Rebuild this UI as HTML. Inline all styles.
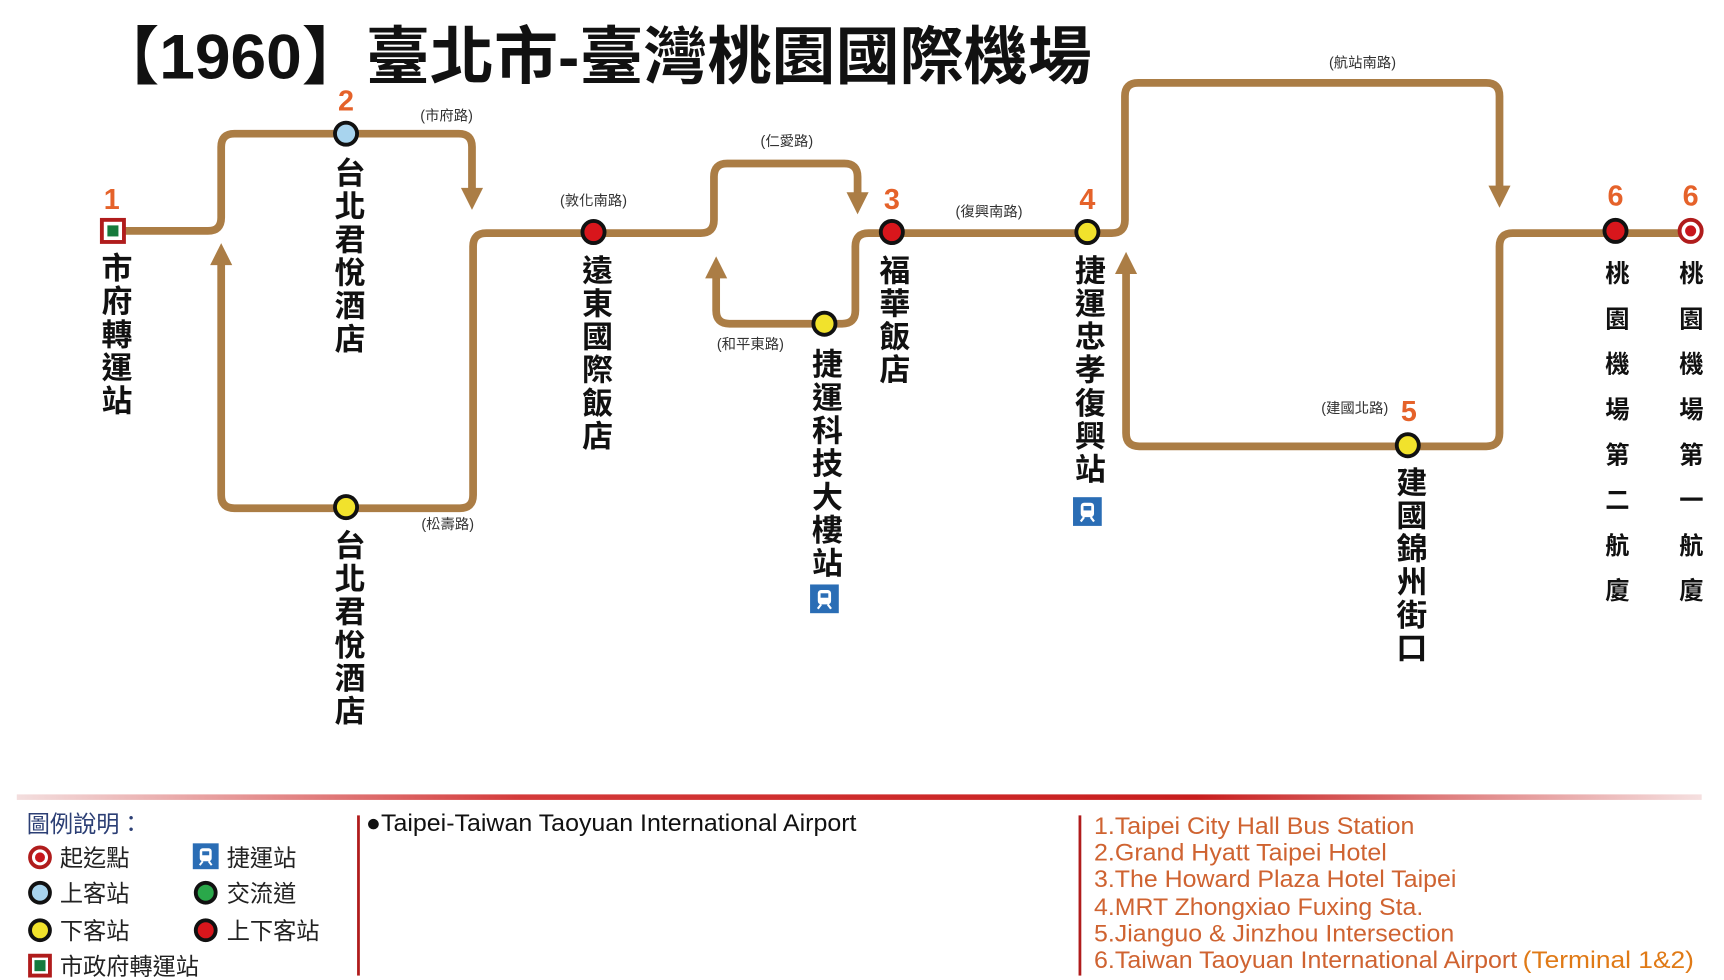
<!DOCTYPE html>
<html><head><meta charset="utf-8"><style>
html,body{margin:0;padding:0;background:#fff;}
svg{display:block;}
.v{writing-mode:vertical-rl;text-orientation:upright;font-family:"Liberation Sans","Noto Sans CJK TC",sans-serif;font-weight:bold;fill:#111;}
.r{font-family:"Liberation Sans","Noto Sans CJK TC",sans-serif;font-size:13px;fill:#333;text-anchor:middle;}
.n{font-family:"Liberation Sans",sans-serif;font-weight:bold;font-size:26px;fill:#e5622a;text-anchor:middle;}
.lg{font-family:"Liberation Sans","Noto Sans CJK TC",sans-serif;font-size:21px;fill:#222;}
.en{font-family:"Liberation Sans",sans-serif;font-size:22px;fill:#cf6331;}
</style></head><body>
<svg width="1724" height="980" viewBox="0 0 1560 887" xmlns="http://www.w3.org/2000/svg">
<defs>
<linearGradient id="g" x1="0" x2="1"><stop offset="0" stop-color="#f3dede"/><stop offset="0.3" stop-color="#d43a3a"/><stop offset="0.7" stop-color="#c81e1e"/><stop offset="1" stop-color="#f5e0e0"/></linearGradient>
<g id="mrt"><rect x="-13" y="-13" width="26" height="26" fill="#2a6db5"/><rect x="-6" y="-8" width="12" height="13" rx="3" fill="#fff"/><rect x="-3.5" y="-5" width="7" height="4" fill="#2a6db5"/><path d="M-6 9 L-3 5 M6 9 L3 5" stroke="#fff" stroke-width="2"/></g>
</defs>
<text x="86" y="71" font-family="Liberation Sans,Noto Sans CJK TC,sans-serif" font-weight="bold" font-size="57" fill="#111" textLength="902" lengthAdjust="spacingAndGlyphs">【1960】臺北市-臺灣桃園國際機場</text>

<g fill="none" stroke="#ab7d45" stroke-width="7" stroke-linejoin="round">
<path d="M108 209 H188 Q200 209 200 197 V133 Q200 121 212 121 H415 Q427 121 427 133 V172"/>
<path d="M200 238 V448 Q200 460 212 460 H416 Q428 460 428 448 V223 Q428 211 440 211 H634 Q646 211 646 199 V160 Q646 148 658 148 H764 Q776 148 776 160 V176"/>
<path d="M648 250 V281 Q648 293 660 293 H762 Q774 293 774 281 V223 Q774 211 786 211 H1006 Q1018 211 1018 199 V87 Q1018 75 1030 75 H1345 Q1357 75 1357 87 V170"/>
<path d="M1019 246 V392 Q1019 404 1031 404 H1345 Q1357 404 1357 392 V223 Q1357 211 1369 211 H1530"/>
</g>
<g fill="#ab7d45">
<path d="M417 170 H437 L427 190 Z"/><path d="M766 174 H786 L776 194 Z"/><path d="M1347 168 H1367 L1357 188 Z"/>
<path d="M190 240 H210 L200 220 Z"/><path d="M638 252 H658 L648 232 Z"/><path d="M1009 248 H1029 L1019 228 Z"/>
</g>

<rect x="92" y="199" width="20" height="20" fill="#fff" stroke="#b01c1c" stroke-width="3.5"/><rect x="97" y="204" width="10" height="10" fill="#157a3c"/>
<g stroke="#111" stroke-width="3.5">
<circle cx="313" cy="121" r="10" fill="#a8d4ee"/>
<circle cx="313" cy="459" r="10" fill="#f1e22c"/>
<circle cx="537" cy="210" r="10" fill="#d8161c"/>
<circle cx="746" cy="293" r="10" fill="#f1e22c"/>
<circle cx="807" cy="210" r="10" fill="#d8161c"/>
<circle cx="984" cy="210" r="10" fill="#f1e22c"/>
<circle cx="1274" cy="403" r="10" fill="#f1e22c"/>
<circle cx="1462" cy="209" r="10" fill="#d8161c"/>
</g>
<circle cx="1530" cy="209" r="10" fill="#fff" stroke="#b01c1c" stroke-width="3.5"/><circle cx="1530" cy="209" r="5" fill="#c8161c"/>

<text class="n" x="101" y="189">1</text><text class="n" x="313" y="100">2</text><text class="n" x="807" y="189">3</text><text class="n" x="984" y="189">4</text><text class="n" x="1275" y="381">5</text><text class="n" x="1462" y="186">6</text><text class="n" x="1530" y="186">6</text>

<text class="r" x="404" y="109">(市府路)</text><text class="r" x="712" y="132">(仁愛路)</text><text class="r" x="537" y="186">(敦化南路)</text><text class="r" x="679" y="316">(和平東路)</text><text class="r" x="895" y="196">(復興南路)</text><text class="r" x="1233" y="61">(航站南路)</text><text class="r" x="405" y="479">(松壽路)</text><text class="r" x="1226" y="374">(建國北路)</text>

<text class="v" x="103" y="228" font-size="28" letter-spacing="2">市府轉運站</text>
<text class="v" x="314" y="142" font-size="28" letter-spacing="2">台北君悅酒店</text>
<text class="v" x="314" y="479" font-size="28" letter-spacing="2">台北君悅酒店</text>
<text class="v" x="538" y="230" font-size="28" letter-spacing="2">遠東國際飯店</text>
<text class="v" x="746" y="315" font-size="28" letter-spacing="2">捷運科技大樓站</text>
<text class="v" x="807" y="230" font-size="28" letter-spacing="2">福華飯店</text>
<text class="v" x="984" y="230" font-size="28" letter-spacing="2">捷運忠孝復興站</text>
<text class="v" x="1275" y="422" font-size="28" letter-spacing="2">建國錦州街口</text>
<text class="v" x="1461" y="236" font-size="22" letter-spacing="19">桃園機場第二航廈</text>
<text class="v" x="1528" y="236" font-size="22" letter-spacing="19">桃園機場第一航廈</text>
<use href="#mrt" x="746" y="542"/><use href="#mrt" x="984" y="463"/>

<rect x="15" y="719" width="1525" height="5" fill="url(#g)"/>
<rect x="323" y="738" width="2.5" height="145" fill="#b01c1c"/><rect x="976" y="738" width="2.5" height="145" fill="#b01c1c"/>

<text class="lg" x="24" y="753" style="fill:#2c3f75">圖例說明：</text>
<circle cx="36" cy="776" r="9" fill="#fff" stroke="#b01c1c" stroke-width="3.5"/><circle cx="36" cy="776" r="4.5" fill="#c8161c"/>
<text class="lg" x="54" y="784">起迄點</text>
<circle cx="36" cy="808" r="9" fill="#a8d4ee" stroke="#111" stroke-width="3.5"/><text class="lg" x="54" y="816">上客站</text>
<circle cx="36" cy="842" r="9" fill="#f1e22c" stroke="#111" stroke-width="3.5"/><text class="lg" x="54" y="850">下客站</text>
<rect x="27" y="865" width="18" height="18" fill="#fff" stroke="#b01c1c" stroke-width="3.5"/><rect x="31" y="869" width="10" height="10" fill="#157a3c"/>
<text class="lg" x="54" y="882">市政府轉運站</text>
<use href="#mrt" transform="translate(186 775) scale(0.9)"/>
<text class="lg" x="205" y="784">捷運站</text>
<circle cx="186" cy="808" r="9" fill="#2aa84a" stroke="#111" stroke-width="3.5"/><text class="lg" x="205" y="816">交流道</text>
<circle cx="186" cy="842" r="9" fill="#d8161c" stroke="#111" stroke-width="3.5"/><text class="lg" x="205" y="850">上下客站</text>

<text x="331" y="752" font-family="Liberation Sans,sans-serif" font-size="22" fill="#111" textLength="444" lengthAdjust="spacingAndGlyphs">●Taipei-Taiwan Taoyuan International Airport</text>

<text class="en" x="990" y="755" textLength="290" lengthAdjust="spacingAndGlyphs">1.Taipei City Hall Bus Station</text>
<text class="en" x="990" y="779" textLength="265" lengthAdjust="spacingAndGlyphs">2.Grand Hyatt Taipei Hotel</text>
<text class="en" x="990" y="803" textLength="328" lengthAdjust="spacingAndGlyphs">3.The Howard Plaza Hotel Taipei</text>
<text class="en" x="990" y="828" textLength="298" lengthAdjust="spacingAndGlyphs">4.MRT Zhongxiao Fuxing Sta.</text>
<text class="en" x="990" y="852" textLength="326" lengthAdjust="spacingAndGlyphs">5.Jianguo &amp; Jinzhou Intersection</text>
<text class="en" x="990" y="876" textLength="383" lengthAdjust="spacingAndGlyphs">6.Taiwan Taoyuan International Airport</text>
<text class="en" x="1378" y="876" fill="#e07a16" style="fill:#e07a16" textLength="155" lengthAdjust="spacingAndGlyphs">(Terminal 1&amp;2)</text>
</svg>
</body></html>
